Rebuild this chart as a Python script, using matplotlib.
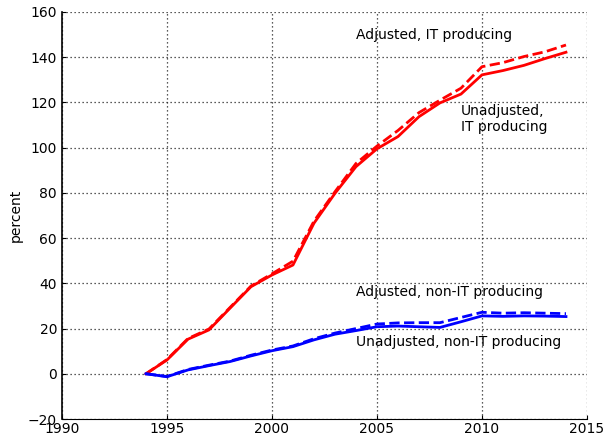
import matplotlib
matplotlib.use('Agg')
import matplotlib.pyplot as plt

years = list(range(1994, 2015))

it_unadj = [0, 6.1, 15.3, 19.4, 29, 38.5, 43.7, 48.1, 66.6, 79.8, 91.6,
            99.5, 104.9, 113.7, 119.8, 123.7, 132.2, 134.1, 136.4, 139.4, 142.2]
it_adj = [0, 6.3, 15.6, 19.8, 29.3, 38.8, 44.2, 49.8, 67.5, 80.5, 93.0,
          100.7, 107.6, 115.5, 121.0, 126.3, 135.8, 137.6, 140.3, 142.4, 145.4]
nonit_unadj = [0, -1.3, 1.7, 3.6, 5.4, 7.9, 10.2, 12.0, 15.0, 17.5, 19.1,
               20.8, 21.1, 20.8, 20.5, 23.0, 25.6, 25.4, 25.6, 25.5, 25.3]
nonit_adj = [0, -1.2, 1.9, 3.8, 5.6, 8.2, 10.5, 12.3, 15.5, 18.0, 20.0,
             22.0, 22.5, 22.6, 22.6, 24.9, 27.2, 26.8, 27.0, 26.8, 26.6]

fig = plt.figure(figsize=(6.16, 4.44), dpi=100)
ax = fig.add_axes([0.1006, 0.0563, 0.8523, 0.9167])

ax.plot(years, it_unadj, color='red', lw=2)
ax.plot(years, it_adj, color='red', lw=2, ls='--')
ax.plot(years, nonit_unadj, color='blue', lw=2)
ax.plot(years, nonit_adj, color='blue', lw=2, ls='--')

ax.text(2004, 150, 'Adjusted, IT producing', va='center', fontsize=10)
ax.text(2009, 112.5, 'Unadjusted,\nIT producing', va='center', fontsize=10)
ax.text(2004, 36, 'Adjusted, non-IT producing', va='center', fontsize=10)
ax.text(2004, 14, 'Unadjusted, non-IT producing', va='center', fontsize=10)

ax.set_xlim(1990, 2015)
ax.set_ylim(-20, 160)
ax.set_ylabel('percent', fontsize=10, labelpad=4)
ax.grid(True, color='0.15', ls=(0, (1, 2.2)), lw=0.9)
ax.spines['top'].set_visible(False)
ax.spines['right'].set_visible(False)
ax.spines['left'].set_linewidth(1.2)
ax.tick_params(direction='in', length=3, labelsize=10)
ax.tick_params(axis='y', pad=3.5)
ax.tick_params(axis='x', pad=2)
ax.tick_params(top=False, right=False)

fig.savefig('out.png', dpi=100)
